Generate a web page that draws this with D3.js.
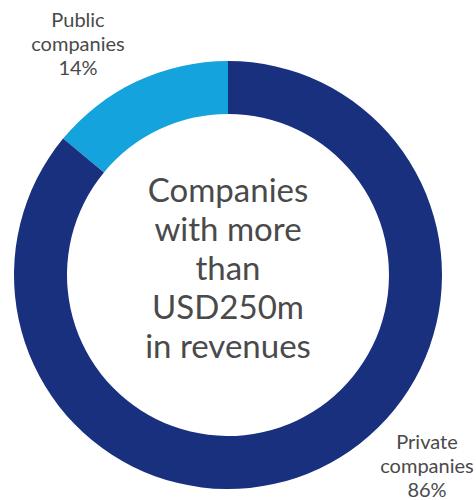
<!DOCTYPE html>
<html>
<head>
<meta charset="utf-8">
<script src="https://cdn.jsdelivr.net/npm/d3@7/dist/d3.min.js"></script>
<style>
  html, body { margin: 0; padding: 0; background: #fff; }
  svg { display: block; font-family: Lato, "Open Sans", sans-serif; }
</style>
</head>
<body>
<div id="chart"></div>
<script>
// Data
const categories = ['Public companies', 'Private companies'];
const shares = [14, 86];
const centerTitle = ['Companies', 'with more', 'than', 'USD250m', 'in revenues'];

const COLORS = ['#14a3dc', '#19307f'];

const width = 476;
const height = 500;
const cx = 228;
const cy = 275;
const outerR = 214;
const innerR = 161;

const svg = d3.select('#chart').append('svg')
  .attr('width', width)
  .attr('height', height);

const g = svg.append('g').attr('transform', `translate(${cx},${cy})`);

// Public slice runs counter-clockwise from 12 o'clock
const pie = d3.pie()
  .sort(null)
  .value(d => d.value)
  .startAngle(-2 * Math.PI * shares[0] / 100)
  .endAngle(2 * Math.PI - 2 * Math.PI * shares[0] / 100);

const arc = d3.arc().innerRadius(innerR).outerRadius(outerR);

const data = categories.map((c, i) => ({ name: c, value: shares[i], color: COLORS[i] }));

g.selectAll('path')
  .data(pie(data))
  .join('path')
  .attr('d', arc)
  .attr('fill', d => d.data.color);

// Centre text
const lineH = 39;
g.append('text')
  .attr('text-anchor', 'middle')
  .attr('fill', '#4a4a4a')
  .attr('font-size', 33)
  .selectAll('tspan')
  .data(centerTitle)
  .join('tspan')
  .attr('x', 0)
  .attr('y', (d, i) => -73 + i * lineH)
  .text(d => d);

// Outside labels (positioned by hand, like the original)
const labelPos = [
  { x: 78, y: 27 },
  { x: 427, y: 449 }
];

data.forEach((d, i) => {
  const words = d.name.split(' ');
  const lines = [words[0], words.slice(1).join(' '), `${d.value}%`];
  svg.append('text')
    .attr('text-anchor', 'middle')
    .attr('fill', '#4a4a4a')
    .attr('font-size', 20)
    .selectAll('tspan')
    .data(lines)
    .join('tspan')
    .attr('x', labelPos[i].x)
    .attr('y', (l, j) => labelPos[i].y + j * 24)
    .text(l => l);
});
</script>
</body>
</html>
